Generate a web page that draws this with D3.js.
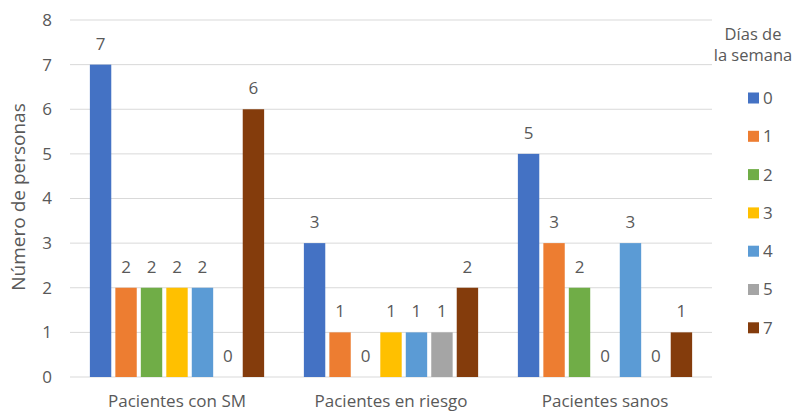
<!DOCTYPE html>
<html>
<head>
<meta charset="utf-8">
<script src="https://cdn.jsdelivr.net/npm/d3@7"></script>
<style>
  body { margin: 0; background: #fff; }
  text { font-family: "Open Sans", "Noto Sans", sans-serif; fill: #595959; }
</style>
</head>
<body>
<svg id="chart" width="793" height="414"></svg>
<script>
    const categories = ["Pacientes con SM", "Pacientes en riesgo", "Pacientes sanos"];
    const days = ["0", "1", "2", "3", "4", "5", "7"];
    const day0 = [7, 3, 5];
    const day1 = [2, 1, 3];
    const day2 = [2, 0, 2];
    const day3 = [2, 1, 0];
    const day4 = [2, 1, 3];
    const day5 = [0, 1, 0];
    const day7 = [6, 2, 1];
    const yTicks = [0, 1, 2, 3, 4, 5, 6, 7, 8];
    const colors = ["#4472C4", "#ED7D31", "#70AD47", "#FFC000", "#5B9BD5", "#A5A5A5", "#843C0C"];

    const seriesValues = [day0, day1, day2, day3, day4, day5, day7];

    const svg = d3.select("#chart");

    const x0 = d3.scaleBand().domain(categories).range([70, 712]);
    const x1 = d3.scaleBand().domain(days).range([0, x0.bandwidth()])
      .paddingInner(0.16).paddingOuter(0.78);
    const y = d3.scaleLinear().domain([0, 8]).range([377, 20]);

    // gridlines
    svg.append("g")
      .selectAll("line")
      .data(yTicks)
      .join("line")
      .attr("x1", 70)
      .attr("x2", 712)
      .attr("y1", d => y(d))
      .attr("y2", d => y(d))
      .attr("stroke", "#d9d9d9")
      .attr("stroke-width", 1);

    // y tick labels
    svg.append("g")
      .selectAll("text")
      .data(yTicks)
      .join("text")
      .attr("x", 47)
      .attr("y", d => y(d))
      .attr("dy", "0.35em")
      .attr("text-anchor", "middle")
      .style("font-size", "17px")
      .text(d => d);

    // y axis title
    svg.append("text")
      .attr("transform", "translate(25,197) rotate(-90)")
      .attr("text-anchor", "middle")
      .style("font-size", "19px")
      .text("Número de personas");

    // bars
    const groups = svg.append("g")
      .selectAll("g")
      .data(categories)
      .join("g")
      .attr("transform", d => "translate(" + x0(d) + ",0)");

    groups.each(function (cat, ci) {
      const g = d3.select(this);
      const rows = days.map((d, si) => ({ day: d, value: seriesValues[si][ci], color: colors[si] }));
      g.selectAll("rect")
        .data(rows)
        .join("rect")
        .attr("x", d => x1(d.day))
        .attr("y", d => y(d.value))
        .attr("width", x1.bandwidth())
        .attr("height", d => y(0) - y(d.value))
        .attr("fill", d => d.color);
      g.selectAll("text")
        .data(rows)
        .join("text")
        .attr("x", d => x1(d.day) + x1.bandwidth() / 2)
        .attr("y", d => y(d.value) - 15)
        .attr("text-anchor", "middle")
        .style("font-size", "17px")
        .text(d => d.value);
    });

    // category labels
    svg.append("g")
      .selectAll("text")
      .data(categories)
      .join("text")
      .attr("x", d => x0(d) + x0.bandwidth() / 2)
      .attr("y", 407)
      .attr("text-anchor", "middle")
      .style("font-size", "17px")
      .text(d => d);

    // legend
    const legend = svg.append("g").attr("class", "legend");
    legend.append("text")
      .attr("x", 753)
      .attr("y", 40)
      .attr("text-anchor", "middle")
      .style("font-size", "16.5px")
      .text("Días de");
    legend.append("text")
      .attr("x", 753)
      .attr("y", 61)
      .attr("text-anchor", "middle")
      .style("font-size", "16.5px")
      .text("la semana");

    const item = legend.selectAll("g.item")
      .data(days)
      .join("g")
      .attr("class", "item")
      .attr("transform", (d, i) => "translate(748," + (98 + i * 38.3) + ")");
    item.append("rect")
      .attr("x", 0)
      .attr("y", -5.5)
      .attr("width", 11)
      .attr("height", 11)
      .attr("fill", (d, i) => colors[i]);
    item.append("text")
      .attr("x", 15)
      .attr("y", 0)
      .attr("dy", "0.35em")
      .style("font-size", "17px")
      .text(d => d);
</script>
</body>
</html>
